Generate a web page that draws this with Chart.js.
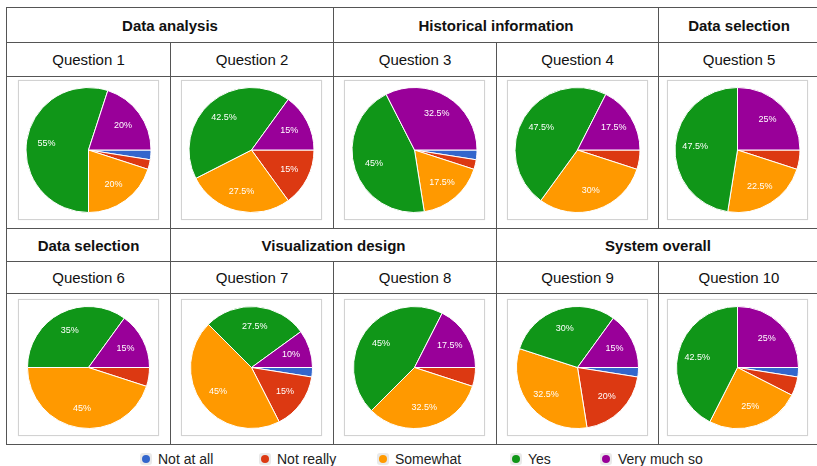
<!DOCTYPE html>
<html lang="en">
<head>
<meta charset="UTF-8">
<title>Survey responses per question</title>
<script src="https://cdn.jsdelivr.net/npm/chart.js"></script>
<style>
  body { margin: 0; background: #fff; font-family: "Liberation Sans", Arial, sans-serif; }
  #page { position: relative; width: 817px; height: 466px; overflow: hidden; }
  .cell {
    position: absolute; box-sizing: border-box; border: 1px solid #555;
    display: flex; align-items: center; justify-content: center; color: #111;
  }
  .group { font-weight: bold; font-size: 15px; }
  .question { font-size: 15px; }
  .box {
    position: absolute; box-sizing: border-box; border: 1px solid #d2d2d2;
    background: #fff; box-shadow: 0 0 1px #e6e6e6;
  }
  .box canvas { display: block; }
  .legend { position: absolute; top: 450px; height: 18px; display: flex; align-items: center; font-size: 14px; color: #222; }
  .legend .dot {
    width: 12px; height: 12px; border-radius: 3px; background: #e9e9e9;
    display: flex; align-items: center; justify-content: center; margin-right: 6px;
  }
  .legend .dot span { width: 8px; height: 8px; border-radius: 50%; display: block; }
</style>
</head>
<body>
<div id="page"></div>

<script>
  // response categories, in drawing order (clockwise from 3 o'clock)
  const responses = ['Not at all', 'Not really', 'Somewhat', 'Yes', 'Very much so'];
  const colors = ['#3366cc', '#dc3912', '#ff9900', '#109618', '#990099'];

  const questions = ['Question 1', 'Question 2', 'Question 3', 'Question 4', 'Question 5',
                     'Question 6', 'Question 7', 'Question 8', 'Question 9', 'Question 10'];

  // percentages per question
  const notAtAll  = [2.5, 0,    2.5,  0,    0,    0,  2.5,  0,    2.5,  2.5];
  const notReally = [2.5, 15,   2.5,  5,    5,    5,  15,   5,    20,   5];
  const somewhat  = [20,  27.5, 17.5, 30,   22.5, 45, 45,   32.5, 32.5, 25];
  const yes       = [55,  42.5, 45,   47.5, 47.5, 35, 27.5, 45,   30,   42.5];
  const veryMuch  = [20,  15,   32.5, 17.5, 25,   15, 10,   17.5, 15,   25];

  // group headers, each with number of question columns it spans
  const groupsTop    = [['Data analysis', 2], ['Historical information', 2], ['Data selection', 1]];
  const groupsBottom = [['Data selection', 1], ['Visualization design', 2], ['System overall', 2]];

  // layout
  const cols = [6, 170, 333, 496, 658, 819];
  const rowsTop = [7, 42, 76, 228];
  const rowsBottom = [228, 261, 293, 444];
  const legendX = [140, 259, 377, 510, 600];

  const page = document.getElementById('page');

  function addCell(x1, y1, x2, y2, text, cls) {
    const d = document.createElement('div');
    d.className = 'cell ' + cls;
    d.style.left = x1 + 'px';
    d.style.top = y1 + 'px';
    d.style.width = (x2 - x1 + 1) + 'px';
    d.style.height = (y2 - y1 + 1) + 'px';
    d.textContent = text;
    page.appendChild(d);
  }

  const sliceLabels = {
    id: 'sliceLabels',
    afterDatasetsDraw(chart) {
      const ctx = chart.ctx;
      const values = chart.data.datasets[0].data;
      ctx.save();
      ctx.font = '9px "Liberation Sans", Arial, sans-serif';
      ctx.fillStyle = '#fff';
      ctx.textAlign = 'center';
      ctx.textBaseline = 'middle';
      chart.getDatasetMeta(0).data.forEach((arc, i) => {
        if (values[i] < 10) return;
        const p = arc.getProps(['x', 'y', 'startAngle', 'endAngle', 'outerRadius']);
        const mid = (p.startAngle + p.endAngle) / 2;
        const r = p.outerRadius * 0.68;
        ctx.fillText(values[i] + '%', p.x + Math.cos(mid) * r, p.y + Math.sin(mid) * r);
      });
      ctx.restore();
    }
  };

  function addPie(q, x1, x2, top, w, h, pad) {
    const box = document.createElement('div');
    box.className = 'box';
    const cx = (x1 + x2) / 2;
    box.style.left = Math.round(cx - w / 2) + 'px';
    box.style.top = top + 'px';
    box.style.width = w + 'px';
    box.style.height = h + 'px';
    const canvas = document.createElement('canvas');
    canvas.width = w - 2;
    canvas.height = h - 2;
    box.appendChild(canvas);
    page.appendChild(box);

    new Chart(canvas, {
      type: 'pie',
      data: {
        labels: responses,
        datasets: [{
          data: [notAtAll[q], notReally[q], somewhat[q], yes[q], veryMuch[q]],
          backgroundColor: colors,
          borderColor: '#ffffff',
          borderWidth: 1,
          hoverOffset: 0
        }]
      },
      options: {
        responsive: false,
        animation: false,
        rotation: 90,
        layout: { padding: pad },
        plugins: { legend: { display: false }, tooltip: { enabled: false } }
      },
      plugins: [sliceLabels]
    });
  }

  function buildBand(groups, rows, firstQ, boxTop, boxH) {
    let c = 0;
    groups.forEach(([name, span]) => {
      addCell(cols[c], rows[0], cols[c + span], rows[1], name, 'group');
      c += span;
    });
    for (let i = 0; i < 5; i++) {
      addCell(cols[i], rows[1], cols[i + 1], rows[2], questions[firstQ + i], 'question');
      addCell(cols[i], rows[2], cols[i + 1], rows[3], '', 'chart');
      addPie(firstQ + i, cols[i], Math.min(cols[i + 1], 817), boxTop, 141, boxH, 6);
    }
  }

  buildBand(groupsTop, rowsTop, 0, 80, 140);
  buildBand(groupsBottom, rowsBottom, 5, 299, 137);

  responses.forEach((name, i) => {
    const item = document.createElement('div');
    item.className = 'legend';
    item.style.left = legendX[i] + 'px';
    item.innerHTML = '<div class="dot"><span style="background:' + colors[i] + '"></span></div>' + name;
    page.appendChild(item);
  });
</script>
</body>
</html>
